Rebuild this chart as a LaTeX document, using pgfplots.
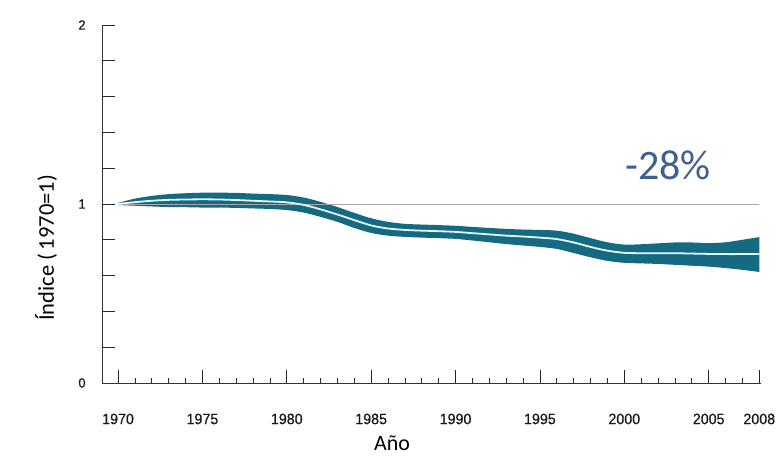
\documentclass[border=0pt]{standalone}
\usepackage{pgfplots}
\pgfplotsset{compat=1.18}
\usepackage{pgfplotstable}
\usepgfplotslibrary{fillbetween}
\usepackage{fontspec}
\setmainfont{Carlito}
\newfontfamily\tickfont[FakeStretch=0.95, FakeBold=0.6]{Liberation Sans}
\definecolor{band}{HTML}{156A82}
\definecolor{mid}{HTML}{E4F7FA}
\definecolor{pct}{HTML}{3F5E96}
\pgfplotstableread{
year up mid lo
1970 1.006 1.000 0.994
1971 1.030 1.010 0.990
1972 1.045 1.018 0.986
1973 1.055 1.023 0.983
1974 1.060 1.025 0.982
1975 1.063 1.026 0.980
1976 1.063 1.025 0.980
1977 1.062 1.022 0.978
1978 1.058 1.018 0.975
1979 1.055 1.014 0.972
1980 1.050 1.009 0.966
1981 1.036 0.995 0.952
1982 1.012 0.970 0.928
1983 0.983 0.941 0.900
1984 0.950 0.910 0.866
1985 0.920 0.880 0.838
1986 0.900 0.863 0.823
1987 0.889 0.855 0.816
1988 0.885 0.851 0.812
1989 0.882 0.848 0.809
1990 0.878 0.844 0.805
1991 0.872 0.837 0.796
1992 0.866 0.830 0.786
1993 0.861 0.823 0.776
1994 0.857 0.818 0.768
1995 0.855 0.812 0.760
1996 0.851 0.804 0.749
1997 0.834 0.785 0.726
1998 0.809 0.760 0.702
1999 0.786 0.739 0.682
2000 0.773 0.727 0.671
2001 0.775 0.725 0.668
2002 0.780 0.725 0.665
2003 0.785 0.725 0.660
2004 0.785 0.723 0.655
2005 0.781 0.721 0.650
2006 0.786 0.720 0.642
2007 0.800 0.720 0.632
2008 0.815 0.720 0.620
}\datatab
\begin{document}
\begin{tikzpicture}
\begin{axis}[
  scale only axis,
  width=659pt, height=358pt,
  xmin=1969.05, xmax=2008.1,
  ymin=0, ymax=2,
  axis lines=left,
  axis line style={black!80, line width=0.9pt, -},
  tick align=inside,
  tick style={black!85, line width=0.8pt},
  major tick length=13pt,
  minor tick length=5pt,
  xtick={1970,1975,1980,1985,1990,1995,2000,2005,2008},
  minor xtick={1971,1972,1973,1974,1976,1977,1978,1979,1981,1982,1983,1984,1986,1987,1988,1989,1991,1992,1993,1994,1996,1997,1998,1999,2001,2002,2003,2004,2006,2007},
  ytick={0,0.2,0.4,0.6,0.8,1,1.2,1.4,1.6,1.8,2},
  yticklabels={0,,,,,1,,,,,2},
  /pgf/number format/1000 sep={},
  /pgf/number format/assume math mode=true,
  ticklabel style={font=\tickfont\fontsize{15}{15}\selectfont, text=black!90},
  xticklabel style={anchor=center, yshift=-36pt},
  yticklabel style={anchor=center, xshift=-20pt, font=\tickfont\fontsize{13.5}{14}\selectfont},
  xlabel={Año},
  ylabel={Índice (\,1970=1)},
  xlabel style={font=\fontsize{22}{24}\selectfont, at={(rel axis cs:0.44,-0.1676)}, anchor=center},
  ylabel style={font=\fontsize{22.5}{24}\selectfont, at={(rel axis cs:-0.085,0.377)}, anchor=center},
  clip=false,
]
\path (rel axis cs:-0.1548,-0.2067) rectangle (rel axis cs:1.0334,1.0698);
\addplot[gray!70, line width=0.7pt] coordinates {(1970,1) (2008,1)};
\addplot[name path=U, draw=none, smooth] table[x=year, y=up] {\datatab};
\addplot[name path=L, draw=none, smooth] table[x=year, y=lo] {\datatab};
\addplot[band, draw=none] fill between[of=U and L];
\addplot[mid, line width=1.8pt, smooth] table[x=year, y=mid] {\datatab};
\node[text=pct, font=\fontsize{42}{44}\selectfont] at (axis cs:2002.6,1.218) {-28\%};
\end{axis}
\end{tikzpicture}
\end{document}
